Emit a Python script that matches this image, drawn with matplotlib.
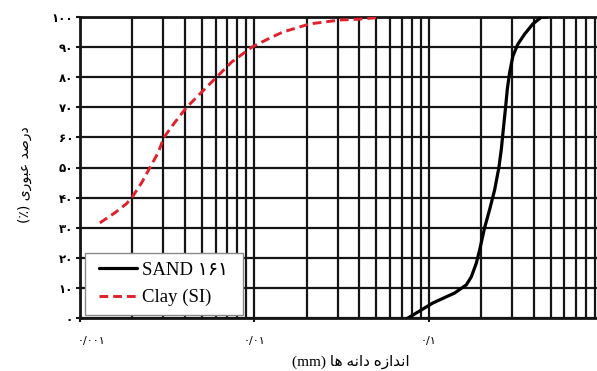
import matplotlib
matplotlib.use("Agg")
import matplotlib.pyplot as plt
import matplotlib.transforms as mtransforms
from matplotlib.patches import Rectangle
from matplotlib.ticker import FixedLocator, LogLocator, NullFormatter

# ---- data ----
sand_size = [0.0761, 0.1058, 0.1409, 0.1644, 0.1757, 0.1876, 0.1960, 0.2094, 0.2236, 0.2389,
             0.2528, 0.2610, 0.2690, 0.2762, 0.2825, 0.2912, 0.3041, 0.3249, 0.3549, 0.3960,
             0.4424, 0.4726]
sand_pass = [0, 5, 8.3, 11, 13.7, 18.2, 22.6, 30, 36, 42.5,
             50, 56, 63.6, 70, 76, 81.5, 87, 91, 94.3, 97.7,
             99.9, 100]
clay_size = [0.00130, 0.00159, 0.00185, 0.00201, 0.00226, 0.00252, 0.00281, 0.00303, 0.00350, 0.00409,
             0.00498, 0.00607, 0.00740, 0.00968, 0.01227, 0.01456, 0.0208, 0.0309, 0.0403, 0.0504]
clay_pass = [31.6, 35, 38, 40.5, 45, 50, 55, 60, 65, 70,
             75, 80, 85, 90, 93, 95, 97.7, 99, 99.3, 99.8]

y_ticks = [0, 10, 20, 30, 40, 50, 60, 70, 80, 90, 100]
y_tick_labels = ["۰", "۱۰", "۲۰", "۳۰", "۴۰", "۵۰", "۶۰", "۷۰", "۸۰", "۹۰", "۱۰۰"]
x_ticks = [0.001, 0.01, 0.1]
x_tick_labels = ["۰/۰۰۱", "۰/۰۱", "۰/۱"]
sand_label = "SAND ۱۶۱"
clay_label = "Clay (SI)"
# visual-order Arabic presentation forms
x_label = "(mm) " + "\uFE8E\uFEEB" + " " + "\uFEEA\uFEE7\uFE8D\uFEA9" + " " + "\uFEE9\uFEAF\uFE8D\uFEAA\uFEE7\uFE8D"
y_label = "(٪) " + "\uFEEF\uFEAD\uFEEE\uFE92\uFECB" + " " + "\uFEAA\uFEBB\uFEAD\uFEA9"

W, H = 597, 371
fig = plt.figure(figsize=(W / 100, H / 100), dpi=100)
left, right, top, bottom = 80, 603, 17, 318
aw, ah = right - left, bottom - top
ax = fig.add_axes([left / W, (H - bottom) / H, aw / W, ah / H])

ax.set_xscale("log")
ax.set_xlim(0.001, 1)
ax.set_ylim(0, 100)

gc = "#151515"
ax.xaxis.set_major_locator(FixedLocator(x_ticks))
ax.xaxis.set_minor_locator(LogLocator(base=10, subs=range(2, 10)))
ax.xaxis.set_minor_formatter(NullFormatter())
ax.set_yticks(y_ticks)

ax.grid(True, which="major", axis="both", color=gc, lw=1.6, zorder=1)
ax.grid(True, which="minor", axis="x", color=gc, lw=1.6, zorder=1)
ax.set_axisbelow(True)
for s in ax.spines.values():
    s.set_color(gc)
    s.set_linewidth(2.0)

ax.plot(sand_size, sand_pass, color="black", lw=2.3, label=sand_label, zorder=3,
        solid_joinstyle="round", solid_capstyle="round")
ax.plot(clay_size, clay_pass, color="#e0202a", lw=2.1, ls=(0, (3, 1.7)), label=clay_label, zorder=3)

fam = ["DejaVu Sans"]
serif = ["Liberation Serif", "DejaVu Sans"]
ax.set_xticklabels(x_tick_labels, family=fam, fontsize=8)
ax.set_yticklabels(y_tick_labels, family=fam, fontsize=8.5, fontweight="bold")
ax.tick_params(axis="both", which="major", length=3, width=1.5, color=gc, direction="out")
ax.tick_params(axis="y", which="major", pad=2)
ax.tick_params(axis="x", which="minor", length=0)
ax.tick_params(axis="x", which="major", pad=10)

# first x tick label sits a bit right of its tick in the reference
first = ax.get_xticklabels()[0]
first.set_transform(first.get_transform() + mtransforms.ScaledTranslation(11 / 100, 0, fig.dpi_scale_trans))

fig.text(351 / W, 1 - 362 / H, x_label, family=serif, fontsize=11, ha="center", va="center")
fig.text(25 / W, 1 - 175 / H, y_label, family=fam, fontsize=10, ha="center", va="center", rotation=90)

# legend box
bx0, bx1, by0, by1 = 85, 243, 253, 315
rect = Rectangle(((bx0 - left) / aw, (bottom - by1) / ah), (bx1 - bx0) / aw, (by1 - by0) / ah,
                 transform=ax.transAxes, facecolor="white", edgecolor="#8a8a8a", lw=1.0, zorder=4)
ax.add_patch(rect)
leg = ax.legend(loc="center", bbox_to_anchor=(((bx0 + bx1) / 2 - left) / aw, (bottom - (by0 + by1) / 2) / ah),
                prop={"family": serif, "size": 13.5},
                frameon=False, handlelength=2.0, borderpad=0.0, labelspacing=0.55,
                handletextpad=0.3, borderaxespad=0)
leg.set_zorder(5)

fig.savefig("out.png", dpi=100)
